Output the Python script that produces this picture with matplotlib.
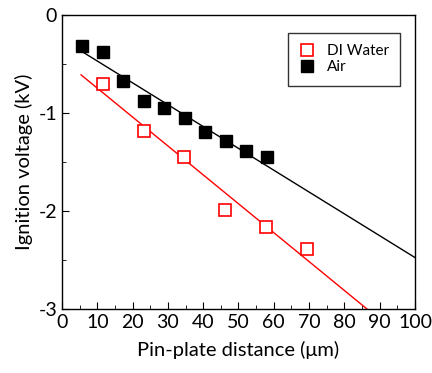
import numpy as np
import matplotlib
matplotlib.use("Agg")
import matplotlib.pyplot as plt
from matplotlib.ticker import MultipleLocator

plt.rcParams['font.family'] = ['Lato', 'DejaVu Sans']
plt.rcParams['axes.unicode_minus'] = False

# --- Data ---
air_x = [5.7, 11.6, 17.3, 23.2, 28.9, 34.8, 40.5, 46.5, 52.1, 58.1]
air_v = [-0.32, -0.38, -0.67, -0.88, -0.95, -1.05, -1.19, -1.29, -1.39, -1.45]
water_x = [11.6, 23.2, 34.6, 46.2, 57.8, 69.4]
water_v = [-0.70, -1.18, -1.45, -1.99, -2.16, -2.39]

# linear fits
air_fit = np.polyfit(air_x, air_v, 1)
water_fit = np.polyfit(water_x, water_v, 1)
fit_x = np.array([5.4, 100])

fig = plt.figure(figsize=(4.32, 3.73), dpi=100)
ax = fig.add_axes([0.1435, 0.1716, 0.8171, 0.7882])

ax.plot(fit_x, np.polyval(air_fit, fit_x), c='black', lw=1)
ax.plot(fit_x, np.polyval(water_fit, fit_x), c='red', lw=1)
ax.plot(water_x, water_v, ls='none', marker='s', ms=9, mfc='white', mec='red', mew=1.2, label='DI Water')
ax.plot(air_x, air_v, ls='none', marker='s', ms=9, mfc='black', mec='black', label='Air')

ax.set_xlim(0, 100)
ax.set_ylim(-3, 0)
ax.xaxis.set_major_locator(MultipleLocator(10))
ax.xaxis.set_minor_locator(MultipleLocator(5))
ax.yaxis.set_major_locator(MultipleLocator(1))
ax.yaxis.set_minor_locator(MultipleLocator(0.5))
ax.tick_params(which='both', direction='in', top=False, right=False, labelsize=14)
ax.tick_params(which='major', length=5)
ax.tick_params(which='minor', length=3)
for s in ax.spines.values():
    s.set_linewidth(1)

ax.set_xlabel('Pin-plate distance (\u03bcm)', fontsize=14.5, labelpad=7)
ax.set_ylabel('Ignition voltage (kV)', fontsize=14.5, labelpad=4)

leg = ax.legend(loc='upper right', bbox_to_anchor=(0.958, 0.94), fontsize=11,
                frameon=True, fancybox=False, edgecolor='black', handletextpad=0.8,
                borderpad=0.75, labelspacing=0.15, handlelength=1.0, borderaxespad=0)
leg.get_frame().set_linewidth(1)

fig.savefig('out.png', dpi=100)
